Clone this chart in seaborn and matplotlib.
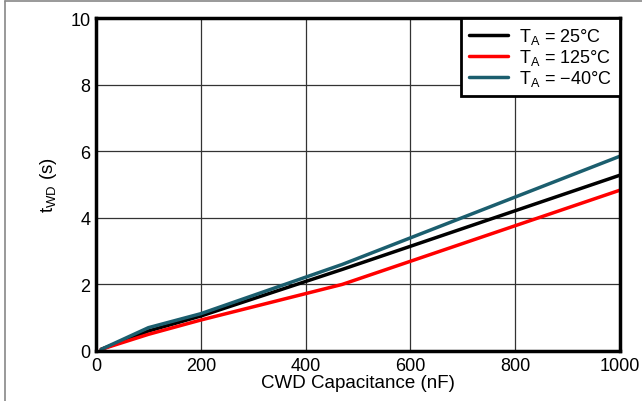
import pandas as pd
import matplotlib
matplotlib.use("Agg")
import matplotlib.pyplot as plt
import seaborn as sns

# CWD capacitance (nF) and watchdog timeout (s)
cap_nf = [10, 100, 200, 470, 1000]
twd_25 = [0.05, 0.60, 1.05, 2.45, 5.28]
twd_125 = [0.05, 0.50, 0.93, 2.00, 4.83]
twd_m40 = [0.05, 0.70, 1.12, 2.60, 5.85]

labels = [r"T$_\mathregular{A}$ = 25°C",
          r"T$_\mathregular{A}$ = 125°C",
          r"T$_\mathregular{A}$ = −40°C"]
colors = ["#000000", "#ff0000", "#1b5e6e"]

df = pd.concat([
    pd.DataFrame({"cap": cap_nf, "twd": twd_25, "temp": labels[0]}),
    pd.DataFrame({"cap": cap_nf, "twd": twd_125, "temp": labels[1]}),
    pd.DataFrame({"cap": cap_nf, "twd": twd_m40, "temp": labels[2]}),
])

sns.set_style("white")
plt.rcParams["font.family"] = ["Liberation Sans", "DejaVu Sans"]
plt.rcParams["mathtext.fontset"] = "custom"
plt.rcParams["mathtext.rm"] = "Liberation Sans"
plt.rcParams["text.color"] = "black"
plt.rcParams["axes.labelcolor"] = "black"
plt.rcParams["xtick.color"] = "black"
plt.rcParams["ytick.color"] = "black"

fig = plt.figure(figsize=(6.42, 4.02), dpi=100)
ax = fig.add_axes([0.1495, 0.1244, 0.8162, 0.8283])

sns.lineplot(data=df, x="cap", y="twd", hue="temp", palette=colors,
             linewidth=2.5, ax=ax)

ax.set_xlim(0, 1000)
ax.set_ylim(0, 10)
ax.set_xticks([0, 200, 400, 600, 800, 1000])
ax.set_yticks([0, 2, 4, 6, 8, 10])
ax.grid(True, color="#333333", linewidth=0.9)
ax.tick_params(length=0, labelsize=13, pad=4)
for s in ax.spines.values():
    s.set_color("black")
    s.set_linewidth(2.5)

ax.set_xlabel("CWD Capacitance (nF)", fontsize=13.5, labelpad=0)
ax.set_ylabel(r"t$_\mathregular{WD}$ (s)", fontsize=13.5, labelpad=8)

leg = ax.legend(loc="upper right", fontsize=13, frameon=True, fancybox=False,
                borderpad=0.45, labelspacing=0.05, handlelength=2.2,
                handletextpad=0.6, borderaxespad=0.0)
leg.get_frame().set_edgecolor("black")
leg.get_frame().set_linewidth(2)
leg.get_frame().set_alpha(1)
for line in leg.get_lines():
    line.set_linewidth(2.5)

# outer grey frame seen at left and top of the figure
fig.add_artist(plt.Line2D([0.008, 0.008], [0, 0.995], color="#888888", linewidth=1.2))
fig.add_artist(plt.Line2D([0.008, 1.0], [0.995, 0.995], color="#888888", linewidth=1.2))

fig.savefig("out.png", dpi=100)
